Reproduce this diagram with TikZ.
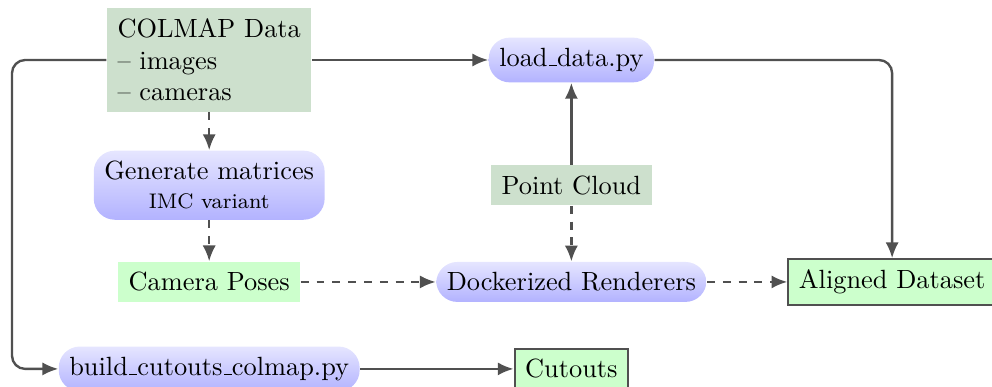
\documentclass[tikz,border=0pt]{standalone}
\usetikzlibrary{arrows.meta}
\definecolor{datagreen}{RGB}{205,224,205}
\definecolor{linkgray}{RGB}{80,80,80}
\newcommand{\usc}{\leavevmode\kern.06em\vbox{\hrule width.3em}}
\tikzset{
  data/.style = {fill=datagreen, inner sep=4pt},
  proc/.style = {rounded corners=8pt, top color=blue!10, bottom color=blue!30,
                 inner sep=4pt},
  result/.style = {fill=green!20, inner sep=4pt},
  final/.style = {fill=green!20, draw=linkgray, line width=0.8pt, inner sep=4pt},
  link/.style = {draw=linkgray, line width=0.9pt, -{Latex[length=6pt,width=5pt]}},
  dlink/.style = {link, dashed}
}
\begin{document}
\begin{tikzpicture}
  \useasboundingbox (0,0) rectangle (13.23,-5.16);
  %%+++++++++++++++++++++++++
  % Variables
  \pgfmathsetmacro{\xa}{2.79}
  \pgfmathsetmacro{\xb}{7.62}
  \pgfmathsetmacro{\ya}{-0.8}
  \pgfmathsetmacro{\yb}{-2.47}
  \pgfmathsetmacro{\yc}{-3.76}
  \pgfmathsetmacro{\yd}{-4.92}
  %%+++++++++++++++++++++++++
  % Nodes
  \node[data, align=left] (colmap) at (\xa,\ya) {COLMAP Data\\-- images\\-- cameras};
  \node[proc] (load) at (\xb,\ya) {load\usc data.py};
  \node[proc, align=center] (gen) at (\xa,\yb) {Generate matrices\\[-1pt]{\footnotesize IMC variant}};
  \node[data] (cloud) at (\xb,\yb) {Point Cloud};
  \node[result] (poses) at (\xa,\yc) {Camera Poses};
  \node[proc] (dock) at (\xb,\yc) {Dockerized Renderers};
  \node[final, anchor=west] (aligned) at (10.5,\yc) {Aligned Dataset};
  \node[proc] (build) at (\xa,\yd) {build\usc cutouts\usc colmap.py};
  \node[final] (cutouts) at (\xb,\yd) {Cutouts};
  \coordinate (lft) at (0.16,\ya);
  % Links
  \draw[link] (colmap) -- (load);
  \draw[link, rounded corners=5pt] (load) -| (aligned);
  \draw[link, rounded corners=5pt] (colmap.west) -- (lft) |- (build);
  \draw[link] (build) -- (cutouts);
  \draw[link] (cloud) -- (load);
  \draw[dlink] (colmap) -- (gen);
  \draw[dlink] (gen) -- (poses);
  \draw[dlink] (poses) -- (dock);
  \draw[dlink] (cloud) -- (dock);
  \draw[dlink] (dock) -- (aligned);
\end{tikzpicture}
\end{document}
